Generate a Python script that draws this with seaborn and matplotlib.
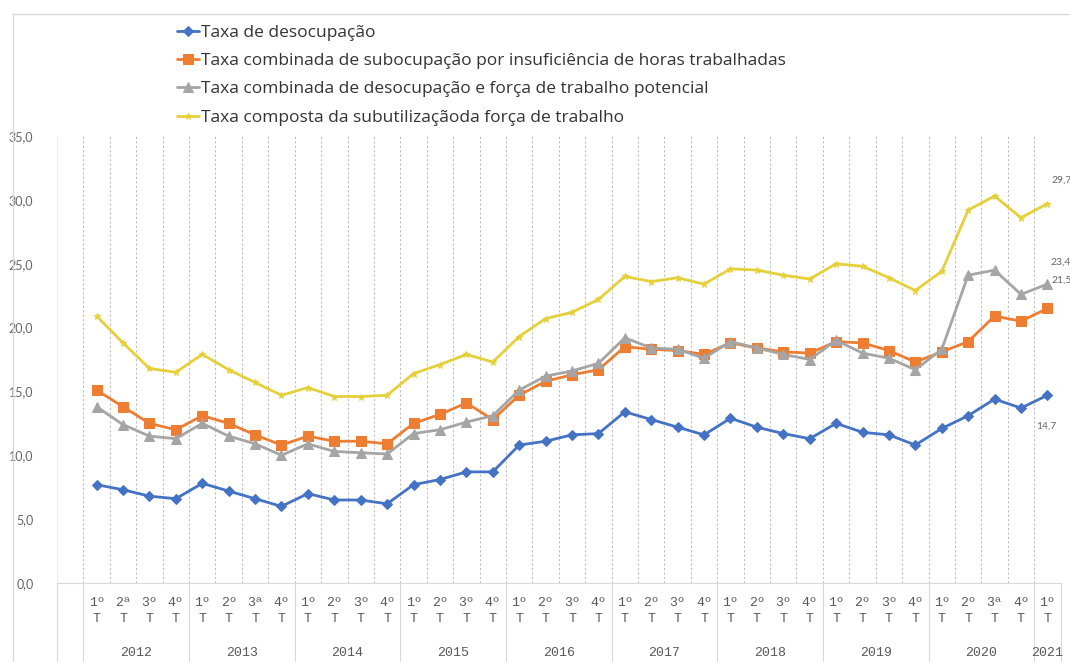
import matplotlib.pyplot as plt
import numpy as np
import pandas as pd
import seaborn as sns
from matplotlib.lines import Line2D

# Trimestres de 2012 a 2021 (rótulos como aparecem no gráfico original)
anos = ['2012', '2013', '2014', '2015', '2016', '2017', '2018', '2019', '2020', '2021']
trimestres = ['1º', '2ª', '3º', '4º',
              '1º', '2º', '3ª', '4º',
              '1º', '2º', '3º', '4º',
              '1º', '2º', '3º', '4º',
              '1º', '2º', '3º', '4º',
              '1º', '2º', '3º', '4º',
              '1º', '2º', '3º', '4º',
              '1º', '2º', '3º', '4º',
              '1º', '2º', '3ª', '4º',
              '1º']

desocupacao = [7.7, 7.3, 6.8, 6.6, 7.8, 7.2, 6.6, 6.0, 7.0, 6.5, 6.5, 6.2,
               7.7, 8.1, 8.7, 8.7, 10.8, 11.1, 11.6, 11.7, 13.4, 12.8, 12.2, 11.6,
               12.9, 12.2, 11.7, 11.3, 12.5, 11.8, 11.6, 10.8, 12.1, 13.1, 14.4, 13.7,
               14.7]
subocupacao = [15.1, 13.8, 12.5, 12.0, 13.1, 12.5, 11.6, 10.8, 11.5, 11.1, 11.1, 10.9,
               12.5, 13.2, 14.1, 12.8, 14.7, 15.8, 16.3, 16.7, 18.5, 18.3, 18.2, 17.9,
               18.8, 18.4, 18.1, 18.0, 18.9, 18.8, 18.2, 17.3, 18.1, 18.9, 20.9, 20.5,
               21.5]
forca_potencial = [13.8, 12.4, 11.5, 11.3, 12.5, 11.5, 10.9, 10.0, 10.9, 10.3, 10.2, 10.1,
                   11.7, 12.0, 12.6, 13.1, 15.1, 16.2, 16.6, 17.2, 19.2, 18.4, 18.3, 17.6,
                   18.9, 18.4, 17.9, 17.5, 19.0, 18.0, 17.6, 16.7, 18.3, 24.1, 24.5, 22.6,
                   23.4]
subutilizacao = [20.9, 18.8, 16.8, 16.5, 17.9, 16.7, 15.7, 14.7, 15.3, 14.6, 14.6, 14.7,
                 16.4, 17.1, 17.9, 17.3, 19.3, 20.7, 21.2, 22.2, 24.0, 23.6, 23.9, 23.4,
                 24.6, 24.5, 24.1, 23.8, 25.0, 24.8, 23.9, 22.9, 24.4, 29.2, 30.3, 28.6,
                 29.7]

series = [
    ('Taxa de desocupação', desocupacao, '#4472C4', 'D', 5.5),
    ('Taxa combinada de subocupação por insuficiência de horas trabalhadas', subocupacao, '#ED7D31', 's', 7),
    ('Taxa combinada de desocupação e força de trabalho potencial', forca_potencial, '#A5A5A5', '^', 6.5),
    ('Taxa composta da subutilizaçãoda força de trabalho', subutilizacao, '#E6D03A', '*', 5),
]

sns.set_style('white')
plt.rcParams['font.family'] = ['Lato', 'DejaVu Sans']

W, H = 1070, 662
fig = plt.figure(figsize=(W / 100, H / 100), dpi=100)
ax = fig.add_axes([57 / W, 1 - 583 / H, (1060.6 - 57) / W, (583 - 136) / H])

pos = np.arange(len(trimestres))
for nome, valores, cor, marcador, tam in series:
    df = pd.DataFrame({'pos': pos, 'taxa': valores})
    sns.lineplot(data=df, x='pos', y='taxa', ax=ax, color=cor, marker=marcador,
                 markersize=tam, markeredgecolor=cor, linewidth=2, label=nome)

ax.set_xlim(-1.5, 36.5)
ax.set_ylim(0, 35)
ax.set_xlabel('')
ax.set_ylabel('')

# eixo y com vírgula decimal
yt = np.arange(0, 36, 5)
ax.set_yticks(yt)
ax.set_yticklabels([f'{v:.1f}'.replace('.', ',') for v in yt])
ax.tick_params(axis='y', length=0, pad=17, labelsize=9, labelcolor='#666666')

# rótulos dos trimestres
ax.set_xticks(pos)
ax.set_xticklabels([f'{q}\nT' for q in trimestres], family='Liberation Mono',
                   fontsize=9.5, color='#595959', linespacing=1.45)
ax.tick_params(axis='x', which='major', length=0, pad=10)
limites = np.arange(-0.5, 36.6, 1)
ax.set_xticks(limites, minor=True)
ax.tick_params(axis='x', which='minor', length=4, color='#D9D9D9')

# grade vertical pontilhada
for b in limites:
    ax.axvline(b, color='#BFBFBF', linestyle=(0, (2, 2)), linewidth=0.8, zorder=0)

for lado in ['top', 'right']:
    ax.spines[lado].set_visible(False)
ax.spines['bottom'].set_color('#D9D9D9')
ax.spines['left'].set_color('#EDEDED')

# anos e separadores
tr = ax.get_xaxis_transform()
for k, ano in enumerate(anos):
    ini = k * 4
    fim = min(ini + 3, len(trimestres) - 1)
    ax.text((ini + fim) / 2, -0.157, ano, transform=tr, ha='center', va='center',
            family='Liberation Mono', fontsize=9.5, color='#595959')
for b in [-1.5, -0.5] + [k * 4 - 0.5 for k in range(1, 10)] + [36.5]:
    ax.add_line(Line2D([b, b], [0, -0.2], transform=tr, color='#D9D9D9',
                       linewidth=0.8, clip_on=False))

# rótulos de dados no último trimestre
ult = len(trimestres) - 1
offsets = {0: (-8, -22), 1: (3, 20), 2: (2, 16), 3: (3, 17)}
for i, (nome, valores, cor, marcador, tam) in enumerate(series):
    ax.annotate(f'{valores[-1]:.1f}'.replace('.', ','), (ult, valores[-1]),
                xytext=offsets[i], textcoords='offset points', fontsize=7.5,
                color='#666666', va='center', annotation_clip=False)

# legenda em coluna no topo
handles, labels = ax.get_legend_handles_labels()
ax.get_legend().remove()
fig.legend(handles, labels, loc='upper left', bbox_to_anchor=(168 / W, 1 - 16 / H),
           frameon=False, prop={'family': 'Open Sans', 'size': 12.5},
           labelspacing=0.7, handlelength=1.3, handletextpad=0.1, borderpad=0,
           labelcolor='#333333')

# borda da área do gráfico
fig.add_artist(Line2D([13 / W, 13 / W], [0, 1 - 14 / H], color='#D9D9D9', linewidth=1))
fig.add_artist(Line2D([13 / W, 1], [1 - 14 / H, 1 - 14 / H], color='#D9D9D9', linewidth=1))

fig.savefig('out.png', dpi=100)
